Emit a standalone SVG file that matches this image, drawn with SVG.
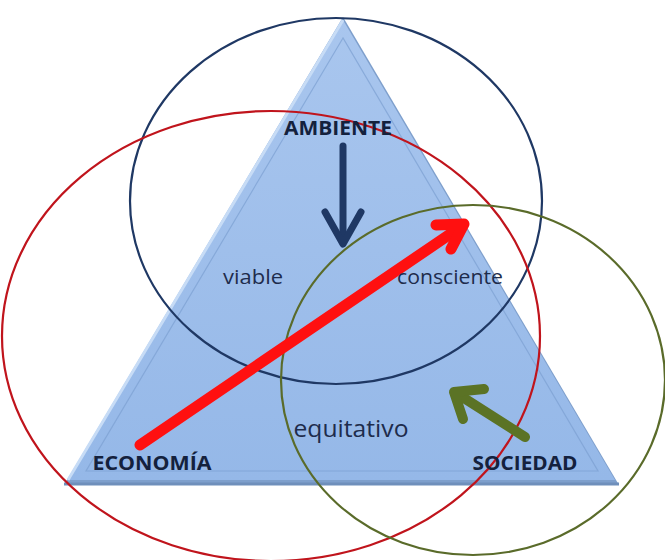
<svg xmlns="http://www.w3.org/2000/svg" width="665" height="560" viewBox="0 0 665 560">
<defs>
<style>
.lbl{font-family:"Open Sans","Liberation Sans",sans-serif;fill:#14213d;text-anchor:middle}
.b{font-weight:bold;font-size:20px}
.n{font-size:20px;fill:#1e2c4c}
</style>
<linearGradient id="g" x1="0" y1="0" x2="0" y2="1">
<stop offset="0" stop-color="#a9c6ee"/>
<stop offset="1" stop-color="#95b8e8"/>
</linearGradient>
</defs>
<rect width="665" height="560" fill="#fff"/>
<g id="triangle">
<polygon points="343,17 64,485 619,485" fill="#7e9fcc"/>
<polygon points="343,20 68,480 615,480" fill="url(#g)"/>
<polygon points="343,38 86,471 598,471" fill="none" stroke="#7c9fd2" stroke-width="1.2" opacity="0.7"/>
<polyline points="68,480 343,20" fill="none" stroke="#c7dcf6" stroke-width="3"/>
<polyline points="64,484 619,484" fill="none" stroke="#6f8fbb" stroke-width="3"/>
</g>
<g id="circles" fill="none" stroke-width="2.2">
<ellipse id="ambiente-circle" cx="336" cy="201" rx="206" ry="183" stroke="#1f3864"/>
<ellipse id="economia-circle" cx="271" cy="336" rx="269" ry="225" stroke="#c0141c"/>
<ellipse id="sociedad-circle" cx="473" cy="380" rx="192" ry="175" stroke="#5a6b2a"/>
</g>
<g id="connectors" fill="none" stroke-linecap="round" stroke-linejoin="round">
<g stroke="#1f3864" stroke-width="7">
<line x1="343" y1="146" x2="343" y2="242"/>
<polyline points="325,212 343,244 361,212"/>
</g>
<g stroke="#ff1010" stroke-width="11">
<line x1="140" y1="445" x2="462" y2="226"/>
<polyline points="436,225 464,224 451,249"/>
</g>
<g stroke="#5b7325" stroke-width="10">
<line x1="525" y1="437" x2="456" y2="393"/>
<polyline points="484,389 454,392 463,419"/>
</g>
</g>
<g id="ambiente"><text class="lbl b" x="338" y="135" textLength="108" lengthAdjust="spacingAndGlyphs">AMBIENTE</text></g>
<g id="economia"><text class="lbl b" x="152" y="470" textLength="119" lengthAdjust="spacingAndGlyphs">ECONOMÍA</text></g>
<g id="sociedad"><text class="lbl b" x="525" y="470" textLength="105" lengthAdjust="spacingAndGlyphs">SOCIEDAD</text></g>
<g id="viable"><text class="lbl n" x="253" y="284" textLength="60" lengthAdjust="spacingAndGlyphs">viable</text></g>
<g id="consciente"><text class="lbl n" x="450" y="284" textLength="106" lengthAdjust="spacingAndGlyphs">consciente</text></g>
<g id="equitativo"><text class="lbl n" x="351" y="437" style="font-size:23px" textLength="115" lengthAdjust="spacingAndGlyphs">equitativo</text></g>
</svg>
